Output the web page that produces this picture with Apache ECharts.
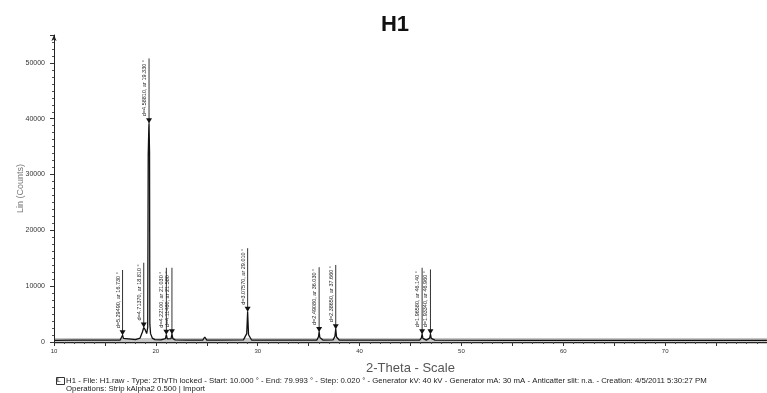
<!DOCTYPE html>
<html>
<head>
<meta charset="utf-8">
<script src="https://cdn.jsdelivr.net/npm/echarts@6/dist/echarts.min.js"></script>
<style>
  html, body { margin: 0; padding: 0; background: #fff; }
  #chart { width: 767px; height: 393px; }
</style>
</head>
<body>
<div id="chart"></div>
<script>
// Diffraction scan H1: 2-theta (deg) vs intensity (counts)
const scanTwoTheta = [10, 12, 14, 16, 16.5, 16.64, 16.73, 16.82, 17.0, 18.0, 18.45, 18.68, 18.81, 18.95, 19.10,
  19.20, 19.25, 19.31, 19.33, 19.38, 19.41, 19.48, 19.65, 19.9, 20.5, 20.94, 21.03, 21.12, 21.3, 21.49, 21.58,
  21.67, 21.9, 23.0, 24.6, 24.8, 25.0, 26.0, 28.6, 28.92, 29.01, 29.10, 29.4, 32.0, 35.8, 35.96, 36.03, 36.10,
  36.4, 37.4, 37.58, 37.66, 37.74, 38.0, 42.0, 45.9, 46.06, 46.14, 46.22, 46.55, 46.88, 46.96, 47.04, 47.4,
  55.0, 65.0, 79.993];
const scanCounts = [300, 320, 330, 340, 360, 700, 1200, 650, 380, 420, 700, 1800, 2600, 2200, 1500,
  2600, 33500, 38500, 39200, 34000, 3200, 1500, 700, 420, 380, 600, 1300, 550, 420, 600, 1400,
  600, 380, 330, 320, 900, 320, 320, 380, 1500, 5400, 1300, 360, 320, 340, 900, 1800, 800,
  340, 380, 1000, 2300, 900, 360, 320, 330, 700, 1400, 650, 330, 700, 1400, 650, 330,
  300, 300, 300];

// Identified peaks: position (deg 2-theta), peak counts, top of marker line, d-spacing (Angstrom)
const peakTwoTheta = [16.73, 18.81, 19.33, 21.03, 21.58, 29.01, 36.03, 37.66, 46.14, 46.96];
const peakCounts   = [1200, 2600, 39200, 1300, 1400, 5400, 1800, 2300, 1400, 1400];
const peakLineTop  = [12900, 14200, 50800, 13300, 13300, 16800, 13400, 13800, 13300, 13000];
const peakD        = [5.29490, 4.71370, 4.58810, 4.22100, 4.11480, 3.07570, 2.49080, 2.38650, 1.96580, 1.93340];

// Grey noise band along the baseline
const bandTwoTheta = [10, 79.993];
const bandCounts = [200, 200];

const xTicks = [10, 20, 30, 40, 50, 60, 70];
const yTicks = [0, 10000, 20000, 30000, 40000, 50000];

const FONT = 'Liberation Sans, Arial, sans-serif';

const chart = echarts.init(document.getElementById('chart'), null, { renderer: 'canvas' });

const peakRows = peakTwoTheta.map((t, i) => [t, peakCounts[i], peakLineTop[i], peakD[i]]);

chart.setOption({
  animation: false,
  backgroundColor: '#ffffff',
  textStyle: { fontFamily: FONT },
  title: {
    text: 'H1',
    left: 390, top: 9,
    textAlign: 'center',
    textStyle: { fontFamily: FONT, fontSize: 22, fontWeight: 'bold', color: '#111' }
  },
  grid: { left: 54, right: 0, top: 35, bottom: 51, containLabel: false, outerBoundsMode: 'none' },
  xAxis: {
    type: 'value',
    min: 10, max: 80, interval: 5,
    z: 5,
    name: '2-Theta - Scale',
    nameLocation: 'middle',
    nameGap: 20,
    nameTextStyle: { fontFamily: FONT, fontSize: 13, color: '#555' },
    axisLine: { show: true, onZero: false, lineStyle: { color: '#222', width: 1 } },
    axisTick: { show: true, length: 4, lineStyle: { color: '#333' } },
    minorTick: { show: true, splitNumber: 5, length: 2, lineStyle: { color: '#444' } },
    splitLine: { show: false },
    axisLabel: {
      fontFamily: FONT, fontSize: 6, color: '#333', margin: 6,
      formatter: v => (xTicks.indexOf(v) >= 0 ? String(v) : '')
    }
  },
  yAxis: {
    type: 'value',
    min: 0, max: 55000, interval: 10000,
    z: 5,
    name: 'Lin (Counts)',
    nameLocation: 'middle',
    nameRotate: 90,
    nameGap: 29,
    nameMoveOverlap: false,
    nameTextStyle: { fontFamily: FONT, fontSize: 9, color: '#777' },
    axisLine: { show: true, symbol: ['none', 'arrow'], symbolSize: [4, 6], lineStyle: { color: '#222', width: 1 } },
    axisTick: { show: true, length: 4, lineStyle: { color: '#333' } },
    minorTick: { show: true, splitNumber: 8, length: 2, lineStyle: { color: '#555' } },
    splitLine: { show: false },
    axisLabel: {
      fontFamily: FONT, fontSize: 7, color: '#333', margin: 9,
      formatter: v => (yTicks.indexOf(v) >= 0 ? String(v) : '')
    }
  },
  series: [
    {
      name: 'band',
      type: 'line',
      z: 1,
      silent: true,
      symbol: 'none',
      data: bandTwoTheta.map((t, i) => [t, bandCounts[i]]),
      lineStyle: { color: '#c6c6c6', width: 6 }
    },
    {
      name: 'H1',
      type: 'line',
      z: 3,
      symbol: 'none',
      data: scanTwoTheta.map((t, i) => [t, scanCounts[i]]),
      lineStyle: { color: '#111', width: 1.3 }
    },
    {
      name: 'peaks',
      type: 'custom',
      z: 4,
      data: peakRows,
      renderItem: (params, api) => {
        const t = api.value(0);
        const p0 = api.coord([t, api.value(1)]);
        const p1 = api.coord([t, api.value(2)]);
        const label = 'd=' + api.value(3).toFixed(5) + ', ar ' + t.toFixed(3) + ' \u00b0';
        return {
          type: 'group',
          children: [
            { type: 'line', shape: { x1: p0[0], y1: p0[1], x2: p1[0], y2: p1[1] },
              style: { stroke: '#333', lineWidth: 1 } },
            { type: 'polygon',
              shape: { points: [[p0[0], p0[1]], [p0[0] - 3, p0[1] - 5], [p0[0] + 3, p0[1] - 5]] },
              style: { fill: '#111' } },
            { type: 'text', x: p0[0] - 1.5, y: p0[1] - 7, rotation: Math.PI / 2,
              style: { text: label, fill: '#222', font: '5.5px ' + FONT,
                       align: 'left', verticalAlign: 'bottom' } }
          ]
        };
      }
    }
  ],
  graphic: [
    { type: 'rect', left: 56, top: 377, shape: { width: 8, height: 7 },
      style: { fill: '#fff', stroke: '#333', lineWidth: 1 } },
    { type: 'text', left: 57, top: 377,
      style: { text: 'L', font: 'bold 6px ' + FONT, fill: '#333' } },
    { type: 'text', left: 66, top: 377,
      style: { text: 'H1 - File: H1.raw - Type: 2Th/Th locked - Start: 10.000 \u00b0 - End: 79.993 \u00b0 - Step: 0.020 \u00b0 - Generator kV: 40 kV - Generator mA: 30 mA - Anticatter slit: n.a. - Creation: 4/5/2011 5:30:27 PM',
               font: '7.8px ' + FONT, fill: '#222' } },
    { type: 'text', left: 66, top: 385,
      style: { text: 'Operations: Strip kAlpha2 0.500 | Import', font: '7.8px ' + FONT, fill: '#222' } }
  ]
});
</script>
</body>
</html>
